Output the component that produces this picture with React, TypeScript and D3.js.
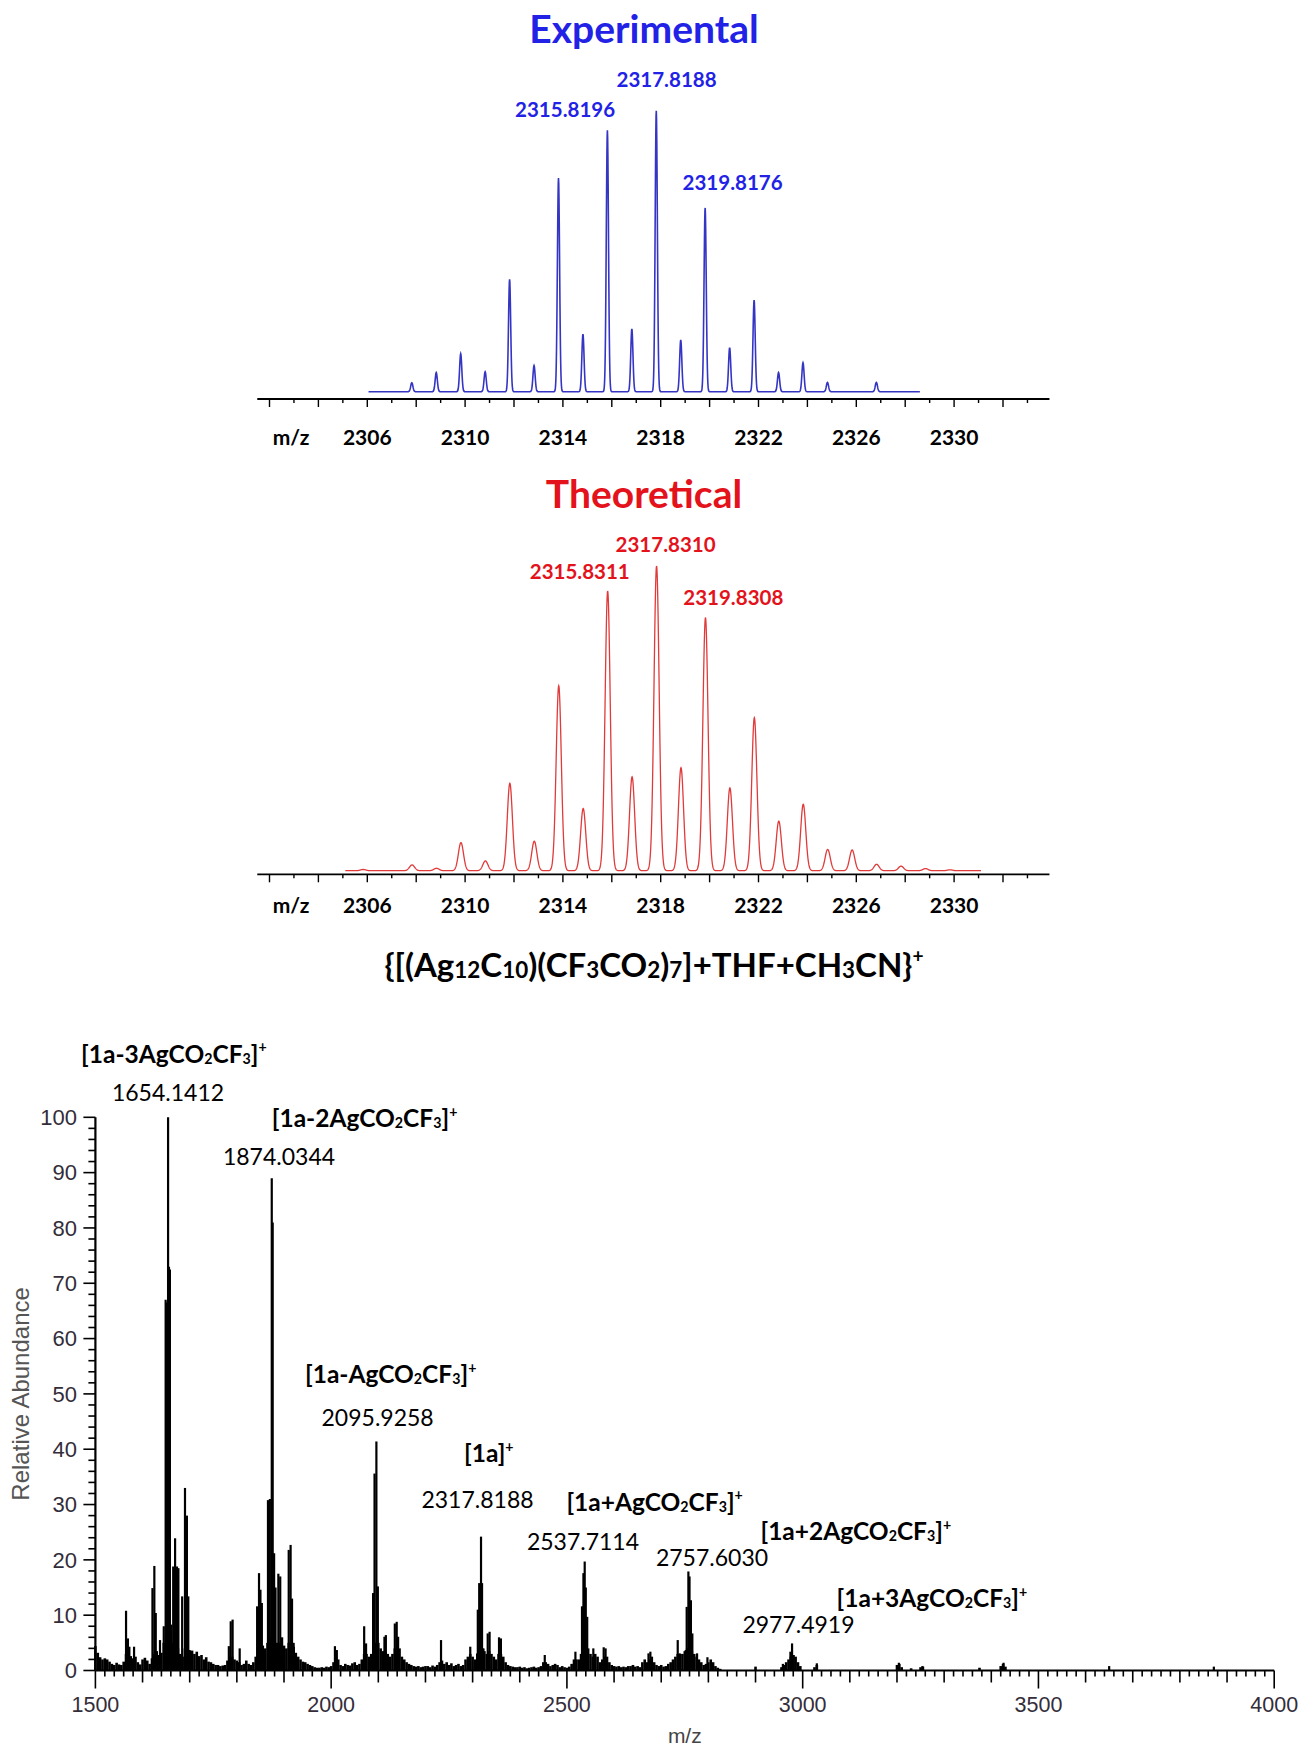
import React from 'react';
import * as d3 from 'd3';

// isotope pattern of {[(Ag12C10)(CF3CO2)7]+THF+CH3CN}+  (m/z, relative intensity)
const expMz = [2307.82, 2308.82, 2309.82, 2310.82, 2311.82, 2312.82, 2313.82, 2314.82, 2315.8196, 2316.82,
  2317.8188, 2318.82, 2319.8176, 2320.82, 2321.82, 2322.82, 2323.82, 2324.82, 2326.82];
const expInt = [3.2, 6.8, 13.5, 7.1, 40, 9.3, 76, 20.5, 93, 22.4, 100, 18.4, 65.5, 15.7, 32.6, 6.8, 10.3, 3.3, 3.3];
const expPeakLabels = ['2315.8196', '2317.8188', '2319.8176'];

const theoMz = [2305.83, 2307.83, 2308.83, 2309.83, 2310.83, 2311.83, 2312.83, 2313.83, 2314.83, 2315.8311,
  2316.83, 2317.831, 2318.83, 2319.8308, 2320.83, 2321.83, 2322.83, 2323.83, 2324.83, 2325.83, 2326.83,
  2327.83, 2328.83, 2329.83];
const theoInt = [0.4, 1.9, 0.8, 9.2, 3.2, 28.7, 9.7, 60.7, 20.4, 91.8, 30.8, 100, 33.8, 83.1, 27.2, 50.2, 16.3,
  21.8, 7.0, 6.8, 2.1, 1.5, 0.7, 0.3];
const theoPeakLabels = ['2315.8311', '2317.8310', '2319.8308'];

const isoTicks = [2306, 2310, 2314, 2318, 2322, 2326, 2330];

// full scan, main sticks (m/z, relative abundance)
const scanPeaks: [number, number][] = [
  [1565, 10.8], [1569, 5.8], [1572, 4.3], [1582, 4.3],
  [1621, 14.9], [1625, 18.9], [1628, 10.4], [1637, 5.5], [1645, 8.0],
  [1649, 67], [1651, 66.5], [1654.14, 100], [1656, 73], [1658, 72.5], [1661, 8.3],
  [1665, 18.8], [1669, 23.9], [1673, 18.8], [1676, 18.5],
  [1684, 13.4], [1690, 33], [1694, 28], [1697, 13.4], [1700, 3.7],
  [1783, 4.4], [1787, 8.9], [1791, 9.2], [1806, 4.0],
  [1843, 11.6], [1847, 17.6], [1850, 14.6], [1853, 12.2], [1866, 30.8], [1870, 31],
  [1874.03, 89], [1876, 81], [1879, 21.2], [1882, 15],
  [1888, 17.5], [1892, 17], [1896, 6], [1910, 21.8], [1914, 22.7], [1917, 13], [1921, 4.3],
  [2008, 4.4], [2012, 3.7],
  [2070, 8], [2074, 4.9], [2089, 14], [2092, 35.6], [2095.93, 41.4], [2099, 15.2],
  [2113, 6.1], [2116, 6.4], [2135, 8.5], [2139, 8.8], [2142, 6.1],
  [2233, 5.5], [2295, 4.3], [2310, 3.1], [2311, 11], [2314, 15.8], [2317.82, 24.2], [2320, 15.8],
  [2323, 4], [2332, 6.7], [2336, 7.0], [2356, 6.0], [2360, 5.8],
  [2453, 2.8], [2518, 3.4], [2532, 11.6], [2535, 17.6], [2537.71, 19.7], [2540, 15], [2543, 9.7],
  [2556, 4.0], [2578, 4.2], [2582, 4.0],
  [2673, 3.1], [2677, 3.4],
  [2735, 5.5], [2739, 3.1], [2752, 3.7], [2754, 11.5], [2757.6, 17.9], [2760, 17], [2763, 12.7],
  [2766, 6.7], [2776, 3.1], [2798, 2.4],
  [2958, 1.2], [2974, 3.4], [2977.49, 4.9], [2981, 2.8], [3030, 1.3], [3204, 1.4], [3254, 0.8],
  [3426, 1.4], [3650, 0.8], [3872, 0.7],
];

// full scan, low-level signal between the peaks
const scanNoise: [number, number][] = [
  [1500, 4.4], [1505, 3.2], [1510, 2.4], [1515, 2.0], [1520, 2.2], [1525, 2.0], [1530, 1.6], [1535, 1.2],
  [1540, 1.0], [1545, 1.4], [1550, 1.1], [1555, 1.0], [1560, 1.6], [1565, 3.0], [1570, 3.0], [1575, 2.6],
  [1580, 2.2], [1585, 2.5], [1590, 1.5], [1595, 1.1], [1600, 2.0], [1605, 2.3], [1610, 1.8], [1615, 1.2],
  [1620, 2.2], [1625, 3.0], [1630, 3.5], [1635, 2.8], [1640, 3.2], [1645, 5.0], [1650, 6], [1655, 6],
  [1660, 5.0], [1665, 5], [1670, 5], [1675, 4], [1680, 3.0], [1685, 2.5], [1690, 4], [1695, 4],
  [1700, 3.5], [1705, 3.6], [1710, 3.0], [1715, 3.4], [1720, 2.6], [1725, 2.8], [1730, 2.0], [1735, 2.4],
  [1740, 1.6], [1745, 1.5], [1750, 1.2], [1755, 1.0], [1760, 1.0], [1765, 0.8], [1770, 0.9], [1775, 1.0],
  [1780, 1.8], [1785, 2.5], [1790, 2.5], [1795, 2.0], [1800, 1.8], [1805, 1.5], [1810, 1.0], [1815, 1.2],
  [1820, 1.8], [1825, 1.2], [1830, 1.0], [1835, 1.5], [1840, 2.5], [1845, 4], [1850, 5], [1855, 4.5],
  [1860, 4.0], [1865, 5.0], [1870, 6], [1875, 6], [1880, 6.0], [1885, 5.0], [1890, 5], [1895, 4.5],
  [1900, 4.5], [1905, 4.0], [1910, 5], [1915, 5], [1920, 5.0], [1925, 3.2], [1930, 2.5], [1935, 2.0],
  [1940, 1.6], [1945, 1.5], [1950, 1.2], [1955, 1.0], [1960, 0.8], [1965, 0.6], [1970, 0.5], [1975, 0.5],
  [1980, 0.6], [1985, 0.5], [1990, 0.7], [1995, 0.6], [2000, 0.8], [2005, 1.5], [2010, 2.5], [2015, 2.0],
  [2020, 1.0], [2025, 0.8], [2030, 1.2], [2035, 1.0], [2040, 0.9], [2045, 1.3], [2050, 1.5], [2055, 1.0],
  [2060, 1.2], [2065, 2.0], [2070, 3.0], [2075, 3.0], [2080, 2.5], [2085, 3.0], [2090, 4], [2095, 5],
  [2100, 5], [2105, 4.0], [2110, 3.5], [2115, 3.5], [2120, 3.0], [2125, 2.5], [2130, 3.0], [2135, 4],
  [2140, 4.5], [2145, 4.0], [2150, 2.5], [2155, 2.0], [2160, 1.5], [2165, 1.2], [2170, 1.0], [2175, 0.8],
  [2180, 0.7], [2185, 0.8], [2190, 0.6], [2195, 0.7], [2200, 0.8], [2205, 0.8], [2210, 0.6], [2215, 0.9],
  [2220, 0.7], [2225, 1.0], [2230, 1.5], [2235, 1.8], [2240, 1.2], [2245, 1.5], [2250, 1.0], [2255, 1.3],
  [2260, 0.8], [2265, 1.0], [2270, 1.2], [2275, 0.8], [2280, 1.0], [2285, 2.0], [2290, 2.5], [2295, 3.0],
  [2300, 2.5], [2305, 2.0], [2310, 3.0], [2315, 4], [2320, 4], [2325, 3.5], [2330, 3.0], [2335, 3.5],
  [2340, 3.0], [2345, 2.5], [2350, 2.0], [2355, 3.0], [2360, 3.0], [2365, 2.5], [2370, 1.5], [2375, 1.0],
  [2380, 0.8], [2385, 0.7], [2390, 0.6], [2395, 0.6], [2400, 0.7], [2405, 0.5], [2410, 0.6], [2415, 0.4],
  [2420, 0.5], [2425, 0.6], [2430, 0.7], [2435, 0.5], [2440, 0.6], [2445, 0.8], [2450, 1.5], [2455, 1.5],
  [2460, 1.2], [2465, 0.8], [2470, 1.0], [2475, 1.2], [2480, 1.0], [2485, 0.6], [2490, 0.8], [2495, 0.6],
  [2500, 0.5], [2505, 0.7], [2510, 1.2], [2515, 2.0], [2520, 2.0], [2525, 2.0], [2530, 3.0], [2535, 4],
  [2540, 4], [2545, 4.0], [2550, 3.0], [2555, 2.5], [2560, 3.0], [2565, 2.5], [2570, 1.5], [2575, 2.0],
  [2580, 2.5], [2585, 2.5], [2590, 1.5], [2595, 1.0], [2600, 0.8], [2605, 0.7], [2610, 0.8], [2615, 0.6],
  [2620, 0.7], [2625, 0.6], [2630, 0.8], [2635, 0.8], [2640, 1.0], [2645, 0.7], [2650, 0.8], [2655, 0.6],
  [2660, 1.5], [2665, 2.0], [2670, 1.5], [2675, 2.0], [2680, 2.5], [2685, 1.5], [2690, 1.0], [2695, 0.8],
  [2700, 1.0], [2705, 0.7], [2710, 0.8], [2715, 1.2], [2720, 1.5], [2725, 2.0], [2730, 2.5], [2735, 3],
  [2740, 3], [2745, 3.0], [2750, 3.5], [2755, 4], [2760, 4], [2765, 3.5], [2770, 3.0], [2775, 2.5],
  [2780, 2.0], [2785, 1.5], [2790, 1.0], [2795, 1.2], [2800, 1.5], [2805, 2.0], [2810, 1.5], [2815, 0.8],
  [2820, 0.5], [2825, 0.3], [2900, 0.7], [2955, 0.6], [2960, 1.0], [2965, 1.5], [2970, 2.0], [2975, 2.5],
  [2980, 2.5], [2985, 2.5], [2990, 1.5], [2995, 0.8], [3025, 0.6], [3030, 1.0], [3200, 1.0], [3205, 1.2],
  [3210, 0.6], [3230, 0.4], [3250, 0.6], [3255, 0.7], [3375, 0.5], [3420, 0.8], [3425, 1.2], [3430, 0.7],
];

// "_" = subscript, "^" = superscript
const ionNames: string[][] = [
  ['[1a-3AgCO', '_2', 'CF', '_3', ']', '^+'],
  ['[1a-2AgCO', '_2', 'CF', '_3', ']', '^+'],
  ['[1a-AgCO', '_2', 'CF', '_3', ']', '^+'],
  ['[1a]', '^+'],
  ['[1a+AgCO', '_2', 'CF', '_3', ']', '^+'],
  ['[1a+2AgCO', '_2', 'CF', '_3', ']', '^+'],
  ['[1a+3AgCO', '_2', 'CF', '_3', ']', '^+'],
];
const ionMasses = ['1654.1412', '1874.0344', '2095.9258', '2317.8188', '2537.7114', '2757.6030', '2977.4919'];
const abundanceTicks = [0, 10, 20, 30, 40, 50, 60, 70, 80, 90, 100];
const mzTicks = [1500, 2000, 2500, 3000, 3500, 4000];

const formula = ['{[(Ag', '_12', 'C', '_10', ')(CF', '_3', 'CO', '_2', ')', '_7', ']+THF+CH', '_3', 'CN}', '^+'];

// ---------- layout ----------
const FONT = 'Lato, "Open Sans", sans-serif';
const ARIAL = '"Liberation Sans", Arial, sans-serif';

const isoX = d3.scaleLinear().domain([2306, 2330]).range([367.3, 954.1]);

const expLayout = {
  titleY: 43, baseY: 391.7, topY: 110.7, axisY: 399, labelY: 445, from: 2306.05, to: 2328.6, sigma: 0.045,
  labelAt: [[2314.09, 97.9], [2318.24, 108.4], [2320.94, 71.8]],
};
const theoLayout = {
  titleY: 508, baseY: 870.7, topY: 566, axisY: 874.3, labelY: 913, from: 2305.1, to: 2331.1, sigma: 0.105,
  labelAt: [[2314.69, 95.6], [2318.2, 104.7], [2320.97, 87.2]],
};

const xB = d3.scaleLinear().domain([1500, 4000]).range([95.4, 1274.2]);
const yB = d3.scaleLinear().domain([0, 100]).range([1670.5, 1117.3]);

// anchors in data units: number labels (centre, baseline), ion names (left, baseline)
const massAt = [[1654, 102.9], [1889.4, 91.4], [2098.5, 44.2], [2310.4, 29.4], [2534.1, 21.8], [2807.7, 18.8], [2991.1, 6.8]];
const nameAt = [[1469.7, 109.9], [1874.1, 98.2], [1944.5, 51.9], [2281.8, 37.6], [2498.9, 28.9], [2910.5, 23.6], [3071.9, 11.4]];

function RichText(props: { parts: string[]; size: number; x: number; y: number; anchor?: string; weight?: any; fill?: string; subShift?: number; smallRatio?: number }) {
  const { parts, size, x, y } = props;
  const small = size * (props.smallRatio ?? 0.58);
  let shift = 0;
  const spans = parts.map((p, i) => {
    let target = 0;
    let fs = size;
    let txt = p;
    if (p[0] === '_') { target = props.subShift ?? 1; fs = small; txt = p.slice(1); }
    else if (p[0] === '^') { target = -size * 0.42; fs = size * 0.58; txt = p.slice(1); }
    const dy = target - shift;
    shift = target;
    return <tspan key={i} dy={dy} fontSize={fs}>{txt}</tspan>;
  });
  return (
    <text x={x} y={y} textAnchor={props.anchor || 'start'} fontFamily={FONT} fontWeight={props.weight || 'bold'}
      fontSize={size} fill={props.fill || '#000'}>{spans}</text>
  );
}

function IsoPanel(props: { title: string; textColor: string; lineColor: string; mz: number[]; ints: number[]; labels: string[]; lay: any; lineWidth: number }) {
  const { lay, mz, ints } = props;
  const y = d3.scaleLinear().domain([0, 100]).range([lay.baseY, lay.topY]);

  // profile made of one peak shape per listed isotope peak
  const pts: [number, number][] = [];
  const n = Math.round((lay.to - lay.from) / 0.01);
  for (let i = 0; i <= n; i++) {
    const m = lay.from + i * 0.01;
    let v = 0;
    mz.forEach((c, k) => {
      const d = (m - c) / lay.sigma;
      if (Math.abs(d) < 6) v += ints[k] * Math.exp(-0.5 * d * d);
    });
    pts.push([m, v]);
  }
  const line = d3.line<[number, number]>().x(d => isoX(d[0])).y(d => y(d[1]));
  const ticks = d3.range(2302, 2334);

  return (
    <g>
      <text x={644} y={lay.titleY} textAnchor="middle" fontFamily={FONT} fontWeight="bold" fontSize={39}
        fill={props.textColor}>{props.title}</text>
      <path d={line(pts) || ''} fill="none" stroke={props.lineColor} strokeWidth={props.lineWidth} />
      {props.labels.map((t, i) => (
        <text key={t} x={isoX(lay.labelAt[i][0])} y={y(lay.labelAt[i][1])} textAnchor="middle" fontFamily={FONT}
          fontWeight="bold" fontSize={20.5} fill={props.textColor}>{t}</text>
      ))}
      <line x1={isoX(2301.5)} x2={isoX(2333.9)} y1={lay.axisY} y2={lay.axisY} stroke="#000" strokeWidth={1.8} />
      {ticks.map(t => (
        <line key={t} x1={isoX(t)} x2={isoX(t)} y1={lay.axisY} y2={lay.axisY + (t % 2 === 0 ? 8 : 4)}
          stroke="#000" strokeWidth={1.4} />
      ))}
      <text x={291} y={lay.labelY} textAnchor="middle" fontFamily={FONT} fontWeight="bold" fontSize={21}>m/z</text>
      {isoTicks.map(t => (
        <text key={t} x={isoX(t)} y={lay.labelY} textAnchor="middle" fontFamily={FONT} fontWeight="bold"
          fontSize={21}>{t}</text>
      ))}
    </g>
  );
}

function FullScan() {
  const xMinor = d3.range(1500, 4001, 20);
  const yMinor = d3.range(0, 101, 2);
  return (
    <g>
      {scanNoise.map(([m, v], i) => (
        <rect key={'n' + i} x={xB(m) - 1.3} width={2.6} y={yB(v)} height={yB(0) - yB(v)} fill="#000" />
      ))}
      {scanPeaks.map(([m, v], i) => (
        <line key={'p' + i} x1={xB(m)} x2={xB(m)} y1={yB(0)} y2={yB(v)} stroke="#000" strokeWidth={2.2} />
      ))}

      <line x1={xB(1500)} x2={xB(4000)} y1={yB(0)} y2={yB(0)} stroke="#000" strokeWidth={2.2} />
      <line x1={xB(1500)} x2={xB(1500)} y1={yB(0)} y2={yB(100)} stroke="#000" strokeWidth={2.2} />
      {xMinor.map(t => (
        <line key={'xt' + t} x1={xB(t)} x2={xB(t)} y1={yB(0)} y2={yB(0) + (t % 500 === 0 ? 18 : t % 100 === 0 ? 12 : 6)}
          stroke="#000" strokeWidth={1.6} />
      ))}
      {yMinor.map(t => (
        <line key={'yt' + t} x1={xB(1500) - (t % 10 === 0 ? 12 : 7)} x2={xB(1500)} y1={yB(t)} y2={yB(t)}
          stroke="#000" strokeWidth={1.6} />
      ))}
      {mzTicks.map(t => (
        <text key={'xl' + t} x={xB(t)} y={1711.7} textAnchor="middle" fontFamily={ARIAL} fontSize={21.5}
          fill="#332d3a">{t}</text>
      ))}
      {abundanceTicks.map(t => (
        <text key={'yl' + t} x={77} y={yB(t) + 7.8} textAnchor="end" fontFamily={ARIAL} fontSize={22}
          fill="#332d3a">{t}</text>
      ))}
      <text x={(xB(1500) + xB(4000)) / 2} y={1743} textAnchor="middle" fontFamily={ARIAL} fontSize={21}
        fill="#444">m/z</text>
      <text transform={`translate(29, ${(yB(0) + yB(100)) / 2}) rotate(-90)`} textAnchor="middle" fontFamily={ARIAL}
        fontSize={24} fill="#555">Relative Abundance</text>

      {ionMasses.map((t, i) => (
        <text key={t} x={xB(massAt[i][0])} y={yB(massAt[i][1])} textAnchor="middle" fontFamily={FONT}
          fontSize={23} fill="#000">{t}</text>
      ))}
      {ionNames.map((parts, i) => (
        <RichText key={i} parts={parts} size={24.5} x={xB(nameAt[i][0])} y={yB(nameAt[i][1])} />
      ))}
    </g>
  );
}

export default function App() {
  return (
    <div style={{ position: 'absolute', left: 0, top: 0, background: '#fff' }}>
      <svg width={1303} height={1749} viewBox="0 0 1303 1749" style={{ display: 'block' }}>
        <rect width={1303} height={1749} fill="#fff" />
        <IsoPanel title="Experimental" textColor="#2222e6" lineColor="#3535c4" mz={expMz} ints={expInt}
          labels={expPeakLabels} lay={expLayout} lineWidth={1.6} />
        <IsoPanel title="Theoretical" textColor="#e3121b" lineColor="#e03a3a" mz={theoMz} ints={theoInt}
          labels={theoPeakLabels} lay={theoLayout} lineWidth={1.3} />
        <RichText parts={formula} size={33} x={654} y={977} anchor="middle" weight="bold" subShift={1}
          smallRatio={0.68} />
        <FullScan />
      </svg>
    </div>
  );
}
